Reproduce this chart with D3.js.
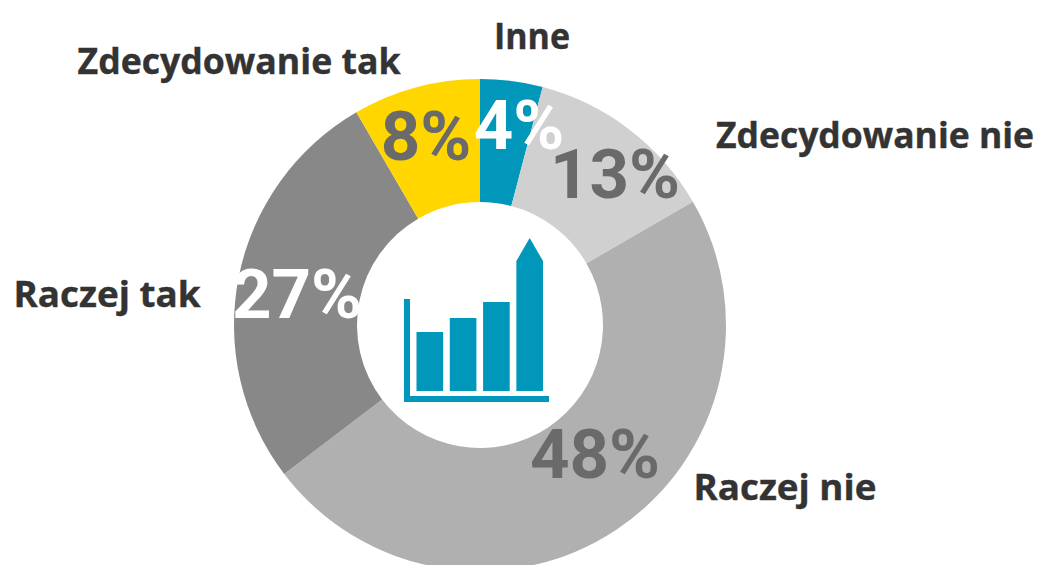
<!DOCTYPE html>
<html><head><meta charset="utf-8">
<style>html,body{margin:0;padding:0;background:#fff;overflow:hidden}svg{display:block}</style>
<script src="https://cdn.jsdelivr.net/npm/d3@7/dist/d3.min.js"></script></head>
<body><script>
const categories=["Inne","Zdecydowanie nie","Raczej nie","Raczej tak","Zdecydowanie tak"];
const values=[4,13,48,27,8];
const shares=[4.1,12.55,48,26.97,8.38];
const sliceColors=["#0097ba","#d0d0d0","#b0b0b0","#888888","#ffd600"];
const valueColors=["#ffffff","#6a6a6a","#6a6a6a","#ffffff","#6a6a6a"];
const labelX=[532,875,785,107,239];
const labelY=[49,148,500,307,74];
const labelWidth=[76,318,183,187,323];
const valueX=[519,615,595,297,426];
const valueY=[149,198,478,318,160];
const iconBars=[59,73,89,130];
const W=1037,H=565,cx=480,cy=325,R=246,r=123;
const svg=d3.select("body").append("svg").attr("width",W).attr("height",H);
const pie=d3.pie().sort(null)(shares);
const arc=d3.arc().innerRadius(r).outerRadius(R);
const g=svg.append("g").attr("transform",`translate(${cx},${cy})`);
g.selectAll("path").data(pie).join("path").attr("d",arc).attr("fill",(d,i)=>sliceColors[i]);

const teal="#0097ba";
const icon=svg.append("g");
const xb=d3.scaleBand().domain(d3.range(iconBars.length)).range([416.5,543]).paddingInner(0.2);
const yb=d3.scaleLinear().domain([0,130]).range([391,261]);
iconBars.forEach((v,i)=>{
  const x0=xb(i),x1=x0+xb.bandwidth();
  let pts=[[x0,yb(0)],[x0,yb(v)],[x1,yb(v)],[x1,yb(0)]];
  if(i===iconBars.length-1)pts=[[x0,yb(0)],[x0,yb(v)],[(x0+x1)/2,yb(v)-23],[x1,yb(v)],[x1,yb(0)]];
  icon.append("path").attr("d",d3.line()(pts)+"Z").attr("fill",teal);
});
icon.append("path").attr("d","M404,299H410V396H549V402H404Z").attr("fill",teal);

svg.selectAll("text.cat").data(categories).join("text").attr("class","cat")
 .attr("x",(d,i)=>labelX[i]).attr("y",(d,i)=>labelY[i])
 .attr("text-anchor","middle")
 .attr("textLength",(d,i)=>labelWidth[i]).attr("lengthAdjust","spacingAndGlyphs")
 .attr("font-family","'Open Sans',sans-serif").attr("font-weight",700).attr("font-size",35.4)
 .attr("fill","#333333").attr("stroke","#333333").attr("stroke-width",0.4).text(d=>d);
svg.selectAll("text.val").data(values).join("text").attr("class","val")
 .attr("x",(d,i)=>valueX[i]).attr("y",(d,i)=>valueY[i])
 .attr("text-anchor","middle")
 .attr("font-family","Roboto,sans-serif").attr("font-weight",700).attr("font-size",69)
 .attr("fill",(d,i)=>valueColors[i]).text(d=>d+"%");
</script></body></html>
